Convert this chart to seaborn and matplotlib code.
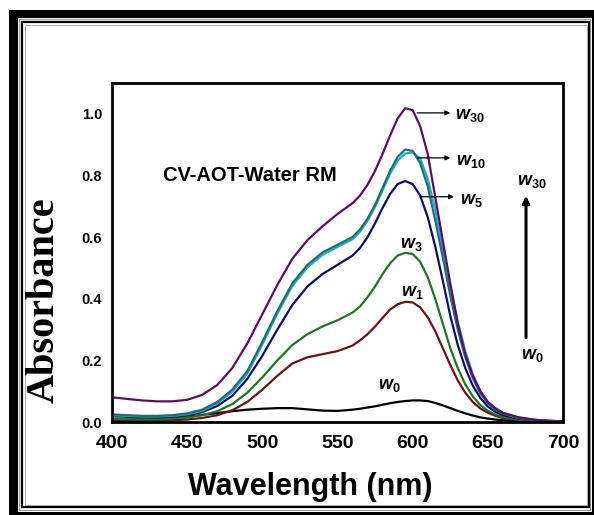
import matplotlib
matplotlib.use("Agg")
import matplotlib.pyplot as plt
from matplotlib.patches import Rectangle
import numpy as np
import pandas as pd
import seaborn as sns

# Wavelength grid (nm) and absorbance of crystal violet in AOT/water reverse micelles
wavelength = [400, 410, 420, 430, 440, 450, 460, 470, 480, 490, 500, 510, 520, 530, 540, 550,
              560, 565, 570, 575, 580, 585, 590, 595, 600, 605, 610, 615, 620, 625, 630, 635,
              640, 645, 650, 655, 660, 670, 680, 690, 700]

abs_w30 = [.080, .075, .070, .067, .067, .072, .088, .120, .175, .255, .350, .445, .530, .590, .635, .675,
           .710, .735, .770, .815, .870, .930, .985, 1.018, 1.012, .960, .870, .730, .590, .450, .320, .220,
           .150, .100, .065, .045, .030, .016, .008, .004, .002]
abs_w20 = [.022, .020, .018, .018, .020, .025, .036, .060, .098, .157, .252, .352, .442, .502, .542, .568,
           .593, .618, .653, .698, .752, .806, .848, .871, .875, .855, .790, .690, .565, .440, .325, .230,
           .155, .100, .065, .043, .029, .014, .007, .004, .002]
abs_w10 = [.025, .022, .020, .020, .022, .028, .040, .065, .105, .165, .260, .360, .450, .510, .550, .575,
           .600, .625, .660, .705, .760, .815, .860, .884, .880, .840, .765, .655, .535, .410, .300, .210,
           .142, .093, .060, .040, .027, .013, .007, .004, .002]
abs_w5 = [.020, .017, .015, .015, .017, .022, .032, .052, .085, .140, .215, .300, .380, .440, .480, .510,
          .540, .565, .600, .645, .695, .740, .772, .782, .772, .735, .665, .570, .460, .345, .250, .175,
          .118, .078, .050, .033, .022, .011, .006, .003, .002]
abs_w3 = [.012, .010, .009, .009, .011, .015, .022, .035, .058, .095, .145, .200, .250, .285, .310, .330,
          .355, .375, .405, .440, .480, .515, .540, .549, .545, .520, .470, .400, .320, .240, .175, .122,
          .083, .055, .036, .024, .016, .008, .004, .002, .001]
abs_w1 = [.006, .005, .005, .005, .006, .008, .013, .022, .038, .065, .105, .150, .190, .210, .220, .230,
          .248, .265, .285, .310, .338, .365, .382, .390, .388, .372, .340, .295, .240, .185, .135, .095,
          .065, .044, .030, .020, .013, .006, .003, .002, .001]
abs_w0 = [.002, .003, .005, .008, .012, .017, .023, .029, .035, .040, .043, .045, .045, .041, .037, .036,
          .040, .043, .047, .051, .056, .061, .065, .068, .070, .070, .068, .062, .054, .045, .036, .028,
          .021, .015, .011, .008, .006, .003, .002, .001, .001]

# Drawing order: lower curves first, w20 underneath w10
series_names = ["w0", "w1", "w3", "w5", "w20", "w10", "w30"]
series_values = [abs_w0, abs_w1, abs_w3, abs_w5, abs_w20, abs_w10, abs_w30]
series_colors = ["#000000", "#6e1212", "#1a7a1a", "#0c0c70", "#18b0cc", "#1f6e70", "#5e0c66"]

x_ticks = [400, 450, 500, 550, 600, 650, 700]
y_ticks = [0.0, 0.2, 0.4, 0.6, 0.8, 1.0]

df = pd.concat(
    [pd.DataFrame({"wavelength": wavelength, "absorbance": vals, "sample": name})
     for name, vals in zip(series_names, series_values)],
    ignore_index=True,
)

sns.set_theme(style="white")
plt.rcParams["font.family"] = ["Liberation Sans", "DejaVu Sans"]
plt.rcParams["text.color"] = "black"
plt.rcParams["axes.labelcolor"] = "black"
plt.rcParams["lines.solid_joinstyle"] = "round"
plt.rcParams["mathtext.fontset"] = "custom"
plt.rcParams["mathtext.it"] = "Liberation Sans:italic:bold"
plt.rcParams["mathtext.rm"] = "Liberation Sans:bold"
plt.rcParams["mathtext.bf"] = "Liberation Sans:bold"

W, H = 594, 515
fig = plt.figure(figsize=(W / 100, H / 100), dpi=100)

# Decorative double frame drawn in pixel coordinates
bg = fig.add_axes([0, 0, 1, 1], zorder=-1)
bg.set_xlim(0, W)
bg.set_ylim(H, 0)
bg.axis("off")
bg.add_patch(Rectangle((9, 10), 9, H - 10, color="black", lw=0))
bg.add_patch(Rectangle((9, 10), W - 9, 8, color="black", lw=0))
bg.add_patch(Rectangle((9, 512), W - 9, 3, color="black", lw=0))
bg.add_patch(Rectangle((591.5, 10), 2.5, H - 10, color="black", lw=0))
bg.add_patch(Rectangle((19, 19), 571, 491, fill=False, ec="#999999", lw=0.8))
bg.add_patch(Rectangle((22, 22), 567, 485, fill=False, ec="black", lw=1.6))
bg.add_patch(Rectangle((24.5, 24.5), 562, 480, fill=False, ec="#aaaaaa", lw=0.7))

ax = fig.add_axes([112 / W, 1 - 422 / H, (563 - 112) / W, (422 - 83) / H])
sns.lineplot(data=df, x="wavelength", y="absorbance", hue="sample",
             hue_order=series_names, palette=series_colors, estimator=None,
             sort=False, legend=False, linewidth=1.6, ax=ax)

ax.set_xlim(400, 700)
ax.set_ylim(0, 1.1)
ax.set_xticks(x_ticks)
ax.set_yticks(y_ticks)
ax.set_xticklabels([str(t) for t in x_ticks], fontsize=14, fontweight="bold")
ax.set_yticklabels([f"{t:.1f}" for t in y_ticks], fontsize=10.5, fontweight="bold")
ax.tick_params(axis="both", length=0, colors="black", labelcolor="black")
ax.tick_params(axis="x", pad=9)
ax.tick_params(axis="y", pad=7)
ax.set_xlabel("")
ax.set_ylabel("")
for sp in ax.spines.values():
    sp.set_color("black")
    sp.set_linewidth(2.0)

fig.text(310 / W, 1 - 487 / H, "Wavelength (nm)", fontsize=22, fontweight="bold",
         color="black", ha="center", va="center")
fig.text(44 / W, 1 - 300 / H, "Absorbance", fontsize=29, fontweight="bold", color="black",
         family=["Liberation Serif", "DejaVu Serif"], rotation=90, ha="center", va="center")

ax.text(434, 0.80, "CV-AOT-Water RM", fontsize=14.5, fontweight="bold", color="black",
        ha="left", va="center")

arrow = dict(arrowstyle="-|>", color="black", lw=0.9, mutation_scale=7, shrinkA=0, shrinkB=0)
lab = dict(fontsize=13, color="black", ha="left", va="center")
ax.annotate("", xy=(625, 1.003), xytext=(603, 1.003), arrowprops=arrow)
ax.text(628, 0.995, r"$w_{30}$", **lab)
ax.annotate("", xy=(625, 0.857), xytext=(603, 0.857), arrowprops=arrow)
ax.text(629, 0.845, r"$w_{10}$", **lab)
ax.annotate("", xy=(627.5, 0.731), xytext=(605, 0.731), arrowprops=arrow)
ax.text(631.5, 0.72, r"$w_{5}$", **lab)
ax.text(591.5, 0.575, r"$w_{3}$", **lab)
ax.text(592, 0.42, r"$w_{1}$", **lab)
ax.text(577, 0.12, r"$w_{0}$", **lab)

ax.annotate("", xy=(675.4, 0.734), xytext=(675.4, 0.273),
            arrowprops=dict(arrowstyle="-|>", color="black", lw=2.2, mutation_scale=10,
                            shrinkA=0, shrinkB=0))
ax.text(669.5, 0.78, r"$w_{30}$", **lab)
ax.text(672, 0.215, r"$w_{0}$", **lab)

fig.savefig("out.png", dpi=100)
